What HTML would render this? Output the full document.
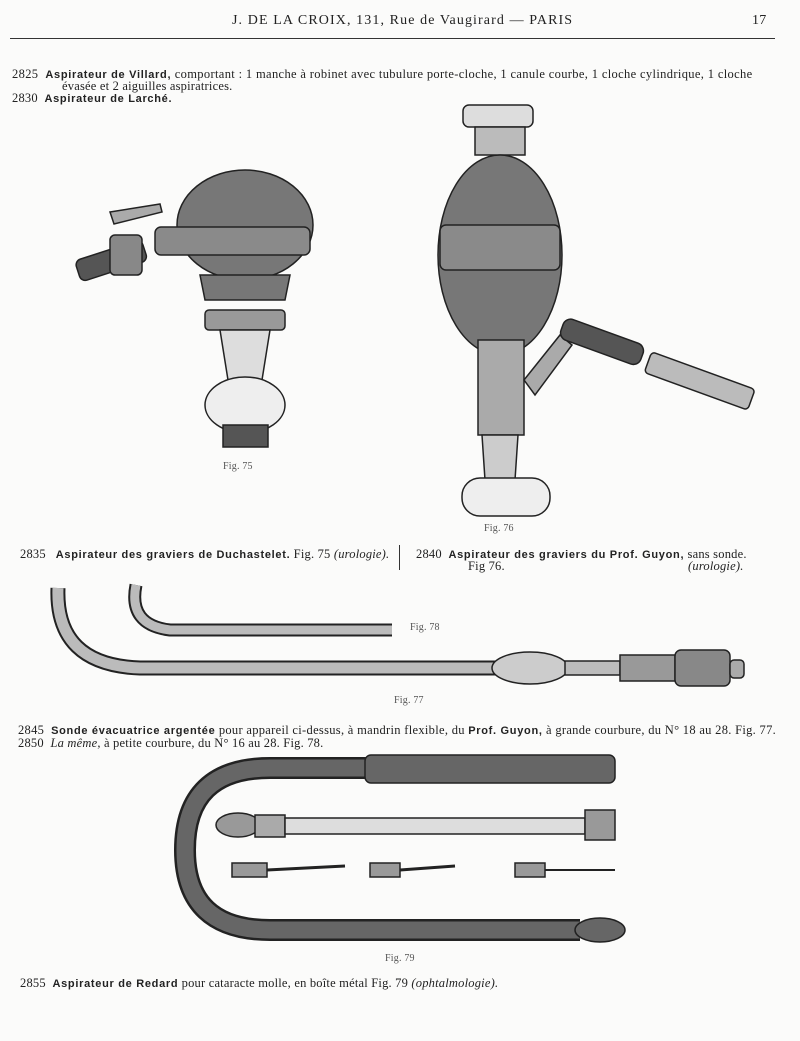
<!DOCTYPE html>
<html><head><meta charset="utf-8"><style>
body{margin:0;background:#fff;}
#p{position:relative;width:800px;height:1041px;overflow:hidden;background:#fbfbfa;font-family:"Liberation Serif",serif;color:#222;}
.t{position:absolute;white-space:nowrap;font-size:12.5px;letter-spacing:0.2px}
b{font-family:"Liberation Sans",sans-serif;font-size:11px;letter-spacing:0.7px}
svg{position:absolute;left:0;top:0}
</style></head><body><div id="p">
<div class="t" style="left:232px;top:13px;font-size:14px;letter-spacing:1.1px">J. DE LA CROIX, 131, Rue de Vaugirard — PARIS</div>
<div class="t" style="left:752px;top:13px;font-size:14px">17</div>
<div style="position:absolute;left:10px;top:38px;width:765px;height:1px;background:#333"></div>
<div class="t" style="left:12px;top:67px;letter-spacing:0.35px">2825 &nbsp;<b>Aspirateur de Villard,</b> comportant : 1 manche à robinet avec tubulure porte-cloche, 1 canule courbe, 1 cloche cylindrique, 1 cloche</div>
<div class="t" style="left:62px;top:79px">évasée et 2 aiguilles aspiratrices.</div>
<div class="t" style="left:12px;top:91px">2830 &nbsp;<b>Aspirateur de Larché.</b></div>
<div class="t" style="left:223px;top:461px;font-size:10px;color:#555">Fig. 75</div>
<div class="t" style="left:484px;top:523px;font-size:10px;color:#555">Fig. 76</div>
<div class="t" style="left:20px;top:547px">2835 &nbsp;&nbsp;<b>Aspirateur des graviers de Duchastelet.</b> Fig. 75 <i>(urologie).</i></div>
<div style="position:absolute;left:399px;top:545px;width:1px;height:25px;background:#333"></div>
<div class="t" style="left:416px;top:547px">2840 &nbsp;<b>Aspirateur des graviers du Prof. Guyon,</b> sans sonde.</div>
<div class="t" style="left:468px;top:559px">Fig 76.</div>
<div class="t" style="left:688px;top:559px"><i>(urologie).</i></div>
<div class="t" style="left:410px;top:622px;font-size:10px;color:#555">Fig. 78</div>
<div class="t" style="left:394px;top:695px;font-size:10px;color:#555">Fig. 77</div>
<div class="t" style="left:18px;top:723px;letter-spacing:0.3px">2845 &nbsp;<b>Sonde évacuatrice argentée</b> pour appareil ci-dessus, à mandrin flexible, du <b>Prof. Guyon,</b> à grande courbure, du N° 18 au 28. Fig. 77.</div>
<div class="t" style="left:18px;top:736px">2850 &nbsp;<i>La même,</i> à petite courbure, du N° 16 au 28. Fig. 78.</div>
<div class="t" style="left:385px;top:953px;font-size:10px;color:#555">Fig. 79</div>
<div class="t" style="left:20px;top:976px">2855 &nbsp;<b>Aspirateur de Redard</b> pour cataracte molle, en boîte métal Fig. 79 <i>(ophtalmologie).</i></div>
<svg width="800" height="1041" stroke="#222" stroke-width="1.5">
<!-- Fig 75 -->
<rect x="76" y="250" width="70" height="22" rx="6" fill="#555" transform="rotate(-18 110 260)"/>
<rect x="110" y="235" width="32" height="40" rx="5" fill="#888"/>
<path d="M110 212 l50 -8 l2 8 l-48 12z" fill="#aaa"/>
<ellipse cx="245" cy="225" rx="68" ry="55" fill="#777"/>
<rect x="155" y="227" width="155" height="28" rx="6" fill="#8a8a8a"/>
<path d="M200 275 L290 275 L285 300 L205 300z" fill="#777"/>
<rect x="205" y="310" width="80" height="20" rx="4" fill="#999"/>
<path d="M220 330 L270 330 L262 380 L228 380z" fill="#ddd"/>
<ellipse cx="245" cy="405" rx="40" ry="28" fill="#eee"/>
<rect x="223" y="425" width="45" height="22" fill="#555"/>
<!-- Fig 76 -->
<rect x="463" y="105" width="70" height="22" rx="6" fill="#ddd"/>
<rect x="475" y="127" width="50" height="28" fill="#bbb"/>
<ellipse cx="500" cy="255" rx="62" ry="100" fill="#777"/>
<rect x="440" y="225" width="120" height="45" rx="6" fill="#8a8a8a"/>
<rect x="478" y="340" width="46" height="95" fill="#aaa"/>
<path d="M524 380 L560 335 L572 345 L535 395z" fill="#aaa"/>
<rect x="560" y="330" width="85" height="22" rx="8" fill="#555" transform="rotate(20 600 340)"/>
<rect x="645" y="370" width="110" height="22" rx="4" fill="#bbb" transform="rotate(20 700 380)"/>
<path d="M482 435 L518 435 L515 480 L485 480z" fill="#ccc"/>
<rect x="462" y="478" width="88" height="38" rx="18" fill="#eee"/>
<!-- Fig 78 -->
<path d="M136 585 Q128 625 170 630 L392 630" fill="none" stroke="#222" stroke-width="13"/>
<path d="M136 585 Q128 625 170 630 L392 630" fill="none" stroke="#bbb" stroke-width="9"/>
<!-- Fig 77 -->
<path d="M58 588 Q55 665 140 668 L500 668" fill="none" stroke="#222" stroke-width="15"/>
<path d="M58 588 Q55 665 140 668 L500 668" fill="none" stroke="#bbb" stroke-width="11"/>
<ellipse cx="530" cy="668" rx="38" ry="16" fill="#ccc"/>
<rect x="565" y="661" width="55" height="14" fill="#bbb"/>
<rect x="620" y="655" width="55" height="26" fill="#999"/>
<rect x="675" y="650" width="55" height="36" rx="6" fill="#888"/>
<rect x="730" y="660" width="14" height="18" rx="4" fill="#aaa"/>
<!-- Fig 79 -->
<path d="M370 768 L270 768 Q185 768 185 850 Q185 930 270 930 L580 930" fill="none" stroke="#222" stroke-width="22"/>
<path d="M370 768 L270 768 Q185 768 185 850 Q185 930 270 930 L580 930" fill="none" stroke="#666" stroke-width="17"/>
<rect x="365" y="755" width="250" height="28" rx="6" fill="#666"/>
<ellipse cx="600" cy="930" rx="25" ry="12" fill="#666"/>
<ellipse cx="238" cy="825" rx="22" ry="12" fill="#999"/>
<rect x="255" y="815" width="30" height="22" fill="#aaa"/>
<rect x="285" y="818" width="300" height="16" fill="#ddd"/>
<rect x="585" y="810" width="30" height="30" fill="#999"/>
<rect x="232" y="863" width="35" height="14" fill="#999"/><path d="M267 870 L345 866" stroke-width="3"/>
<rect x="370" y="863" width="30" height="14" fill="#999"/><path d="M400 870 L455 866" stroke-width="3"/>
<rect x="515" y="863" width="30" height="14" fill="#999"/><path d="M545 870 L615 870" stroke-width="2"/>
</svg>
</div></body></html>
